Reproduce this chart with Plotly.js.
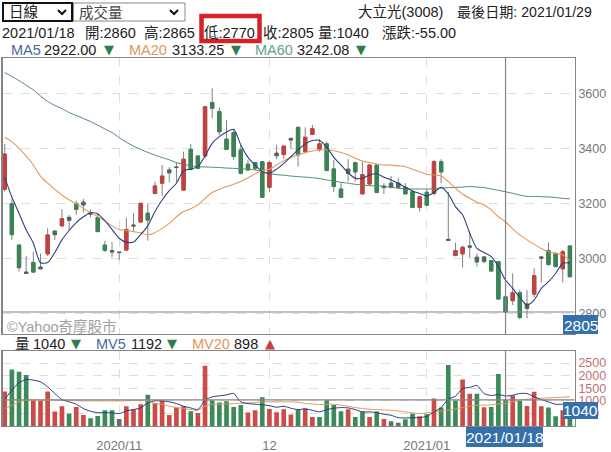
<!DOCTYPE html>
<html><head><meta charset="utf-8">
<script src="https://cdn.plot.ly/plotly-3.0.1.min.js"></script>
<style>html,body{margin:0;padding:0;background:#fff}#c{width:611px;height:452px}</style></head>
<body><div id="c"></div>
<script>
const openP=[3251,3198,3048,2950,2985,2968,3016,3099,3118,3149,3198,3204,3164,3148,3048,3028,3023,3030,3121,3132,3164,3236,3273,3321,3332,3248,3396,3372,3372,3566,3533,3433,3457,3394,3342,3348,3351,3258,3382,3377,3436,3476,3387,3450,3396,3416,3325,3252,3324,3348,3234,3270,3339,3262,3273,3273,3258,3242,3185,3240,3236,3351,3069,3010,3016,3045,3004,3005,2992,2988,2860,2846,2875,2834,2870,3005,3028,3018,2962,3045];
const highP=[3416,3215,3052,3008,3024,3018,3109,3100,3179,3158,3210,3216,3178,3166,3064,3059,3024,3148,3164,3200,3198,3279,3339,3331,3348,3388,3416,3372,3551,3618,3549,3503,3469,3412,3358,3351,3351,3355,3412,3408,3436,3476,3476,3485,3433,3424,3358,3273,3360,3348,3351,3343,3339,3273,3299,3291,3273,3248,3227,3251,3358,3360,3242,3057,3047,3097,3018,3008,2992,2988,2865,2945,2887,2885,2964,3006,3058,3021,3030,3045];
const lowP=[3242,3067,2952,2945,2948,2960,3008,3067,3115,3101,3158,3166,3148,3097,3023,3004,2994,3028,3097,3130,3064,3233,3227,3276,3279,3246,3319,3325,3364,3509,3448,3396,3358,3305,3319,3321,3222,3241,3360,3362,3397,3333,3384,3450,3388,3319,3240,3222,3279,3279,3234,3263,3239,3234,3254,3251,3234,3182,3170,3190,3228,3273,3063,3008,2967,3000,2970,2982,2952,2852,2770,2830,2778,2782,2858,2912,2975,2970,2912,2933];
const closeP=[3379,3086,2966,2945,2950,2962,3085,3086,3144,3138,3178,3194,3161,3097,3029,3023,3021,3105,3118,3200,3139,3263,3299,3311,3330,3360,3324,3327,3551,3545,3460,3396,3370,3309,3321,3327,3222,3348,3373,3408,3430,3376,3440,3471,3416,3319,3261,3222,3309,3314,3304,3339,3239,3257,3258,3258,3234,3185,3224,3193,3351,3314,3065,3028,3040,3041,2987,2989,2954,2852,2805,2875,2785,2818,2937,3001,2977,2970,3024,2933];
const ma5=[3295,3222,3164,3103,3055,2984,2985,3021,3067,3101,3130,3151,3166,3161,3137,3105,3073,3058,3059,3086,3118,3170,3212,3246,3273,3318,3324,3333,3372,3418,3442,3459,3469,3412,3367,3339,3315,3309,3324,3345,3370,3394,3416,3428,3428,3404,3367,3339,3311,3291,3291,3303,3307,3295,3285,3273,3258,3245,3236,3227,3239,3258,3234,3188,3158,3091,3036,3021,3006,2970,2921,2891,2858,2830,2848,2891,2915,2945,2982,2984];
const ma20=[3440,3424,3400,3372,3339,3299,3273,3251,3230,3212,3198,3182,3166,3151,3136,3118,3105,3101,3097,3093,3085,3093,3109,3127,3151,3170,3180,3194,3218,3239,3251,3261,3269,3279,3293,3307,3319,3324,3339,3355,3367,3376,3384,3390,3394,3394,3391,3385,3376,3364,3354,3348,3343,3339,3339,3336,3333,3324,3315,3305,3303,3299,3279,3255,3233,3218,3204,3194,3176,3151,3133,3107,3085,3067,3051,3036,3024,3018,3012,2992];
const ma60=[3675,3661,3646,3629,3612,3590,3570,3556,3544,3530,3519,3508,3497,3484,3470,3457,3439,3422,3408,3396,3385,3375,3366,3358,3348,3342,3336,3333,3332,3331,3330,3328,3327,3325,3324,3321,3315,3308,3304,3302,3299,3297,3295,3293,3290,3285,3281,3276,3273,3269,3267,3264,3263,3262,3258,3255,3253,3252,3252,3252,3253,3255,3257,3258,3259,3261,3259,3257,3252,3247,3242,3236,3230,3225,3225,3224,3223,3221,3218,3216];
const volume=[1370,2248,2155,2022,1024,998,1370,572,785,492,758,439,306,399,625,625,279,785,652,865,1237,918,998,439,732,785,585,519,2394,1024,931,984,758,838,532,625,1144,678,545,665,452,652,692,359,359,1024,838,585,665,359,572,359,572,279,186,133,266,492,386,466,1091,732,2421,1011,1849,1277,1277,745,758,2062,1040,1210,998,798,1357,785,732,386,625,891];
const volTone=["r","g","g","g","r","r","r","r","r","g","r","r","g","g","g","g","d","r","r","r","g","r","r","r","r","r","g","r","r","g","g","g","g","g","r","r","g","r","r","r","r","g","r","r","g","g","g","g","r","g","g","r","g","r","d","d","g","g","r","g","r","g","g","g","r","r","g","r","g","g","g","r","g","r","r","r","g","g","r","g"];
const mv5=[1051,1423,1716,1849,1822,1756,1556,1290,1051,958,865,692,585,532,532,519,492,599,652,718,918,998,998,958,891,785,718,652,1024,1157,1197,1237,1290,958,891,865,838,811,745,785,705,652,678,625,559,652,705,732,718,652,559,559,532,466,426,333,319,333,333,386,559,732,1064,1184,1490,1530,1609,1290,1210,1250,1192,1224,1290,1290,1157,1051,958,865,865,865];
const mv20=[692,825,958,1024,1037,1024,1024,1024,1011,1011,1011,998,998,998,998,998,998,998,1011,1011,998,891,865,785,732,692,652,625,785,865,865,878,891,904,918,931,958,958,958,958,958,944,891,878,851,865,865,825,785,732,692,665,652,638,625,598,559,519,492,519,559,598,625,678,732,785,825,825,838,878,898,958,1024,1064,1091,1104,1117,1130,1144,1157];
const tickIdx=[16,37,59];
const tickText=["2020/11","12","2021/01"];
const priceTicks=[2800,3000,3200,3400,3600];
const volTicks=[500,1000,1500,2000,2500];
const crossIdx=70, crossPrice=2805, crossVol=1040, crossDate="2021/01/18";

const FONT='"Liberation Sans","Noto Sans CJK TC",sans-serif';
const W=611,H=452;
const RED='#c4403f',GREEN='#3a8454',DARK='#4f6a5c',WICK='#808080';
const X=[...openP.keys()];
const px=x=>x/W, py=y=>1-y/H;
const small=i=>Math.abs(openP[i]-closeP[i])<=17;

function bodyTrace(idx,color){
  const o=idx.map(i=>openP[i]),c=idx.map(i=>closeP[i]);
  const style={line:{color:color,width:1},fillcolor:color};
  return {type:'candlestick',x:idx,open:o,close:c,
    high:idx.map((_,k)=>Math.max(o[k],c[k])),low:idx.map((_,k)=>Math.min(o[k],c[k])),
    increasing:style,decreasing:style,whiskerwidth:0,showlegend:false,hoverinfo:'skip',xaxis:'x',yaxis:'y'};
}
const line=(y,color,w,ya)=>({type:'scatter',mode:'lines',x:X,y:y,line:{color:color,width:w,shape:'spline',smoothing:0.7},showlegend:false,hoverinfo:'skip',xaxis:ya==='y'?'x':'x2',yaxis:ya});

const traces=[
 {type:'candlestick',x:X,open:openP,high:highP,low:lowP,close:closeP,
  increasing:{line:{color:WICK,width:1},fillcolor:WICK},decreasing:{line:{color:WICK,width:1},fillcolor:WICK},
  whiskerwidth:0,showlegend:false,hoverinfo:'skip',xaxis:'x',yaxis:'y'},
 bodyTrace(X.filter(i=>closeP[i]>=openP[i]&&!small(i)),RED),
 bodyTrace(X.filter(i=>closeP[i]<openP[i]&&!small(i)),GREEN),
 bodyTrace(X.filter(small),DARK),
 line(ma60,'#4f8a6c',1,'y'),line(ma20,'#e0975a',1.05,'y'),line(ma5,'#2b3c7c',1.05,'y'),
 {type:'bar',x:X,y:volume,marker:{color:volTone.map(t=>t==='r'?'#cc4a48':t==='g'?'#3b8a57':'#666e6a'),line:{width:0}},showlegend:false,hoverinfo:'skip',xaxis:'x2',yaxis:'y2'},
 line(mv20,'#e0975a',1,'y2'),line(mv5,'#2b3c7c',1,'y2')
];

const txt=(text,x,y,color,size)=>({text:text,xref:'paper',yref:'paper',x:px(x-2),y:py(y),xanchor:'left',yanchor:'middle',showarrow:false,font:{family:FONT,size:size||14.5,color:color||'#222'}});
const mid=(text,x,y)=>({text:text,xref:'paper',yref:'paper',x:px(x),y:py(y),xanchor:'center',yanchor:'middle',showarrow:false,font:{family:FONT,size:15.5,color:'#fff'}});
const BLUE='#4a6a9c',ORG='#e2965a',TEAL='#6b9c88',TG='#2f7d4e',TR='#c94040';
const tri=(t,x,y,c)=>({text:t,xref:'paper',yref:'paper',x:px(x),y:py(y),xanchor:'center',yanchor:'middle',showarrow:false,font:{family:'"DejaVu Sans"',size:13,color:c}});
const annotations=[
 txt('日線',9,12,'#222',14.5),txt('成交量',79,12,'#444',14.5),
 txt('大立光(3008)',358,12),txt('最後日期: 2021/01/29',457,12,'#222',14.1),
 txt('2021/01/18',2,33),txt('開:2860',85,33),txt('高:2865',144,33),txt('低:2770',204,33),txt('收:2805',263,33),txt('量:1040',318,33),txt('漲跌:-55.00',382,33),
 txt('MA5',11,49.5,BLUE),txt('2922.00',44,49.5),tri('▼',109,49.5,TG),
 txt('MA20',129,49.5,ORG),txt('3133.25',172,49.5),tri('▼',236,49.5,TG),
 txt('MA60',255,49.5,TEAL),txt('3242.08',297,49.5),tri('▼',361,49.5,TG),
 txt('©Yahoo奇摩股市',7,326,'#a0a0a0'),
 txt('量',15,343.5),txt('1040',33,343.5),tri('▼',76,343.5,TG),
 txt('MV5',96,343.5,BLUE),txt('1192',131,343.5),tri('▼',172,343.5,TG),
 txt('MV20',192,343.5,ORG),txt('898',234,343.5),tri('▲',270,343.5,TR),
 mid(String(closeP[crossIdx]),580.5,325),
 mid(String(crossVol),580.5,410.5),
 mid(crossDate,504.5,437)
];
const box=(x0,y0,x1,y1,fill,lc,lw)=>({type:'rect',xref:'paper',yref:'paper',x0:px(x0),x1:px(x1),y0:py(y0),y1:py(y1),fillcolor:fill,line:{color:lc||fill,width:lw||0},layer:'above'});
const chev=(x,y)=>({type:'path',xref:'paper',yref:'paper',path:`M${px(x)},${py(y)} L${px(x+4)},${py(y+4)} L${px(x+8)},${py(y)}`,line:{color:'#111',width:2},layer:'above'});
const shapes=[
 box(3,3,72,21,'rgba(0,0,0,0)','#111',2),box(73.5,3,185,21,'rgba(0,0,0,0)','#888',1),
 chev(58,10),chev(170,10),
 box(201.5,16,259.5,41,'rgba(0,0,0,0)','#d3222a',4.5),
 {type:'line',xref:'x',yref:'y domain',x0:crossIdx,x1:crossIdx,y0:0,y1:1,line:{color:'#858585',width:1.2}},
 {type:'line',xref:'x2',yref:'y2 domain',x0:crossIdx,x1:crossIdx,y0:0,y1:1,line:{color:'#858585',width:1.2}},
 {type:'line',xref:'x domain',yref:'y',x0:0,x1:1,y0:crossPrice,y1:crossPrice,line:{color:'#858585',width:1.2}},
 {type:'line',xref:'x2 domain',yref:'y2',x0:0,x1:1,y0:crossVol,y1:crossVol,line:{color:'#858585',width:1.2}},
 box(563,315,598,334,'#3570ac'),box(563,402,598,419,'#3570ac'),box(466,427,543,447,'#3570ac')
];
const xr=[-0.31,79.64];
const grid={showgrid:true,gridcolor:'#dedede',griddash:'dash',gridwidth:1,zeroline:false,showline:true,mirror:true,linecolor:'#858585',linewidth:1.4,fixedrange:true};
const layout={width:W,height:H,margin:{l:0,r:0,t:0,b:0},paper_bgcolor:'#fff',plot_bgcolor:'#fff',showlegend:false,hovermode:false,
 boxmode:'overlay',boxgap:0.33,bargap:0.35,dragmode:false,
 xaxis:Object.assign({},grid,{domain:[px(2.5),px(574.5)],range:xr,type:'linear',tickmode:'array',tickvals:tickIdx,ticktext:tickText,showticklabels:false,ticks:'',rangeslider:{visible:false},anchor:'y'}),
 yaxis:Object.assign({},grid,{domain:[py(334),py(58)],range:[2725,3728],side:'right',anchor:'x',tickmode:'array',tickvals:priceTicks,ticks:'',tickfont:{family:FONT,size:12.5,color:'#777'}}),
 xaxis2:Object.assign({},grid,{domain:[px(2.5),px(574.5)],range:xr,type:'linear',tickmode:'array',tickvals:tickIdx,ticktext:tickText,anchor:'y2',ticks:'outside',ticklen:7,tickcolor:'rgba(0,0,0,0)',tickfont:{family:FONT,size:13,color:'#777'}}),
 yaxis2:Object.assign({},grid,{domain:[py(426),py(351)],range:[0,2979],side:'right',anchor:'x2',tickmode:'array',tickvals:volTicks,ticks:'',tickfont:{family:FONT,size:12.5,color:'#c07272'}}),
 annotations:annotations,shapes:shapes};
Plotly.newPlot('c',traces,layout,{staticPlot:true,displayModeBar:false});
</script></body></html>
